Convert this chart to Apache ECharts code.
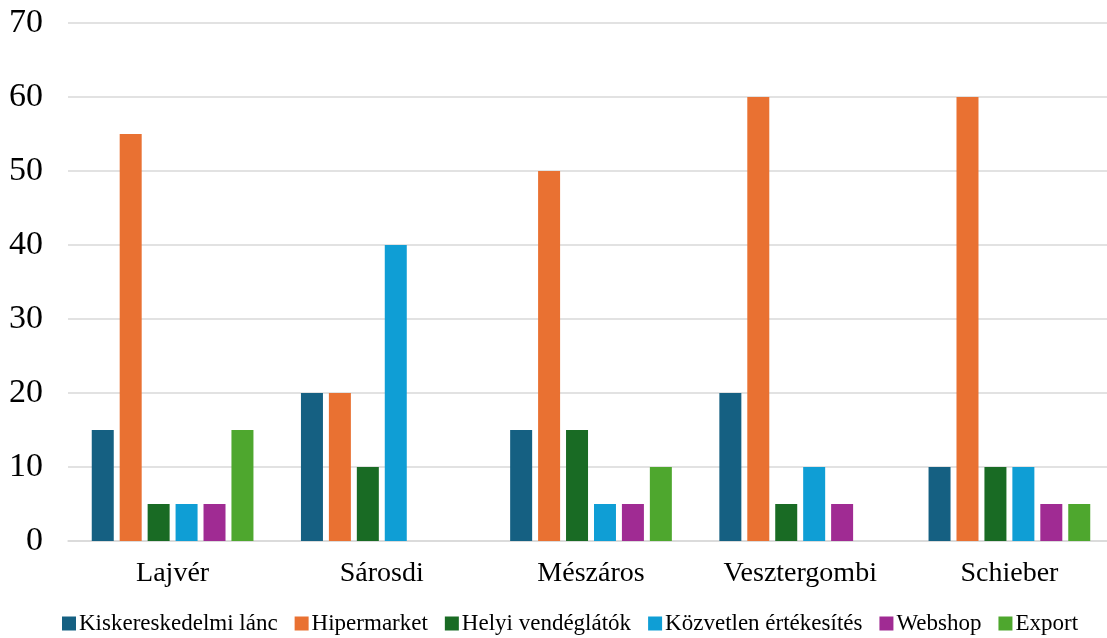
<!DOCTYPE html>
<html>
<head>
<meta charset="utf-8">
<script src="https://cdn.jsdelivr.net/npm/echarts@6/dist/echarts.min.js"></script>
<style>
  html, body { margin: 0; padding: 0; background: #fff; }
  #chart { width: 1107px; height: 638px; }
</style>
</head>
<body>
<div id="chart"></div>
<script>
// Borászatok értékesítési csatornái (%)
const categories = ['Lajvér', 'Sárosdi', 'Mészáros', 'Vesztergombi', 'Schieber'];
const seriesNames = ['Kiskereskedelmi lánc', 'Hipermarket', 'Helyi vendéglátók', 'Közvetlen értékesítés', 'Webshop', 'Export'];
const kiskereskedelmi = [15, 20, 15, 20, 10];
const hipermarket     = [55, 20, 50, 60, 60];
const vendeglatok     = [5, 10, 15, 5, 10];
const kozvetlen       = [5, 40, 5, 10, 10];
const webshop         = [5, 0, 5, 5, 5];
const exportValues    = [15, 0, 10, 0, 5];
const yTicks = [0, 10, 20, 30, 40, 50, 60, 70];

const colors = ['#156082', '#E97132', '#196B24', '#0F9ED5', '#A02B93', '#4EA72E'];
const values = [kiskereskedelmi, hipermarket, vendeglatok, kozvetlen, webshop, exportValues];
const font = '"Liberation Serif", "Times New Roman", serif';

const chart = echarts.init(document.getElementById('chart'));
chart.setOption({
  animation: false,
  color: colors,
  textStyle: { fontFamily: font, color: '#000' },
  grid: { left: 68, width: 1046, top: 23, bottom: 97, containLabel: false, outerBoundsMode: 'none' },
  legend: {
    top: 612,
    left: 62,
    padding: 0,
    itemWidth: 14,
    itemHeight: 14,
    itemGap: 17,
    icon: 'rect',
    textStyle: { fontFamily: font, fontSize: 23, color: '#000', padding: [0, 0, 0, -2] },
    data: seriesNames
  },
  xAxis: {
    type: 'category',
    data: categories,
    axisLine: { lineStyle: { color: '#d9d9d9', width: 1.5 } },
    axisTick: { show: false },
    axisLabel: { fontFamily: font, fontSize: 28, color: '#000', margin: 19 }
  },
  yAxis: {
    type: 'value',
    min: yTicks[0],
    max: yTicks[yTicks.length - 1],
    interval: 10,
    axisLine: { show: false },
    axisTick: { show: false },
    splitLine: { lineStyle: { color: '#d9d9d9', width: 1.5 } },
    axisLabel: { fontFamily: font, fontSize: 34, color: '#000', margin: 25 }
  },
  series: seriesNames.map((name, i) => ({
    name: name,
    type: 'bar',
    data: values[i],
    barWidth: 22,
    barGap: '27%',
    itemStyle: { color: colors[i] }
  }))
});
</script>
</body>
</html>
